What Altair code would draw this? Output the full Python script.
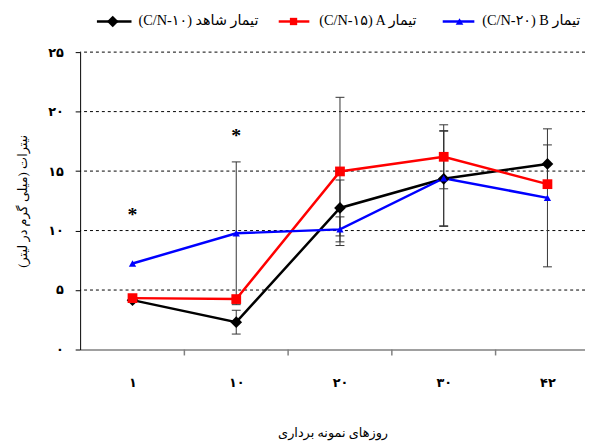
import altair as alt
import pandas as pd

# ---- data ----
day_labels = ["۱", "۱۰", "۲۰", "۳۰", "۴۲"]
series_names = ["(C/N-۱۰) تیمار شاهد", "(C/N-۱۵) A تیمار", "(C/N-۲۰) B تیمار"]
series_colors = ["#000000", "#ff0000", "#0000ff"]
series_shapes = ["diamond", "square", "triangle-up"]
series_sizes = [140, 55, 60]

control_vals = [4.15, 2.3, 11.9, 14.35, 15.6]
control_err = [0, 1.0, 2.35, 4.0, 1.6]
a_vals = [4.32, 4.24, 14.97, 16.2, 13.9]
a_err = [0, 0, 6.23, 2.69, 0]
b_vals = [7.23, 9.77, 10.1, 14.4, 12.75]
b_err = [0, 6.0, 1.05, 4.0, 5.8]

star_idx = [0, 1]
star_vals = [11.55, 18.2]

y_ticks = [0, 5, 10, 15, 20, 25]
y_tick_labels = ["۰", "۵", "۱۰", "۱۵", "۲۰", "۲۵"]
grid_vals = [5, 10, 15, 20, 25]
boundaries = [0.5, 1.5, 2.5, 3.5]

x_title = "روزهای نمونه برداری"
y_title = "نیترات (میلی گرم در لیتر)"

FONT = "Liberation Serif, DejaVu Sans"

# ---- tables ----
rows, err_rows = [], []
all_vals = [control_vals, a_vals, b_vals]
all_errs = [control_err, a_err, b_err]
for s, (vals, errs) in enumerate(zip(all_vals, all_errs)):
    for i, (v, e) in enumerate(zip(vals, errs)):
        rows.append({"idx": i, "value": v, "series": series_names[s], "order": s})
        if e > 0:
            err_rows.append({"idx": i, "lo": v - e, "hi": v + e, "series": series_names[s]})
df = pd.DataFrame(rows)
df_err = pd.DataFrame(err_rows)
df_star = pd.DataFrame({"idx": star_idx, "value": star_vals, "t": ["*"] * len(star_idx)})
df_grid = pd.DataFrame({"value": grid_vals})
df_bound = pd.DataFrame({"idx": boundaries})


def label_expr(vals, labels):
    expr = "''"
    for v, l in reversed(list(zip(vals, labels))):
        expr = f"datum.value == {v} ? '{l}' : {expr}"
    return expr


xscale = alt.Scale(domain=[-0.505, 4.362], nice=False, zero=False)
yscale = alt.Scale(domain=[0, 25], nice=False, zero=False)

xaxis = alt.Axis(values=list(range(len(day_labels))), labelExpr=label_expr(list(range(len(day_labels))), day_labels),
                 ticks=False, grid=False, domainColor="#808080", domainWidth=1.5,
                 labelPadding=27, labelFont=FONT, labelFontSize=13, labelFontWeight="bold",
                 labelColor="black", title=x_title, titleFont=FONT, titleFontSize=13,
                 titleFontWeight="normal", titleColor="black", titlePadding=38)
yaxis = alt.Axis(values=y_ticks, labelExpr=label_expr(y_ticks, y_tick_labels), grid=False,
                 tickColor="black", tickSize=5, domainColor="black", domainWidth=1,
                 labelPadding=12, labelFont=FONT, labelFontSize=13, labelFontWeight="bold",
                 labelColor="black", title=y_title, titleFont=FONT, titleFontSize=13,
                 titleFontWeight="normal", titleColor="black", titlePadding=18)

X = alt.X("idx:Q", scale=xscale, axis=xaxis)
color = alt.Color("series:N", scale=alt.Scale(domain=series_names, range=series_colors), legend=None)
shape = alt.Shape("series:N", scale=alt.Scale(domain=series_names, range=series_shapes), legend=None)
size = alt.Size("series:N", scale=alt.Scale(domain=series_names, range=series_sizes), legend=None)

grid = alt.Chart(df_grid).mark_rule(color="black", strokeDash=[3, 3], strokeWidth=1).encode(
    y=alt.Y("value:Q", scale=yscale, axis=yaxis))

bounds = alt.Chart(df_bound).mark_rule(color="#808080", strokeWidth=1.5).encode(
    x=X, y=alt.value(301), y2=alt.value(307))

err_v = alt.Chart(df_err).mark_rule(color="#333333", strokeWidth=1).encode(
    x=X, y=alt.Y("lo:Q", scale=yscale, axis=yaxis), y2="hi:Q")
cap_lo = alt.Chart(df_err).mark_rule(color="#333333", strokeWidth=1, xOffset=-4.5, x2Offset=4.5).encode(
    x=X, x2="idx:Q", y=alt.Y("lo:Q", scale=yscale, axis=yaxis))
cap_hi = alt.Chart(df_err).mark_rule(color="#333333", strokeWidth=1, xOffset=-4.5, x2Offset=4.5).encode(
    x=X, x2="idx:Q", y=alt.Y("hi:Q", scale=yscale, axis=yaxis))

lines = alt.Chart(df).mark_line(strokeWidth=2.5).encode(
    x=X, y=alt.Y("value:Q", scale=yscale, axis=yaxis), color=color, detail="series:N",
    order="idx:Q")
points = alt.Chart(df).mark_point(filled=True, opacity=1).encode(
    x=X, y=alt.Y("value:Q", scale=yscale, axis=yaxis), color=color, shape=shape, size=size)

stars = alt.Chart(df_star).mark_text(fontSize=20, fontWeight="bold", font=FONT, color="black",
                                     baseline="middle", dy=3).encode(
    x=X, y=alt.Y("value:Q", scale=yscale, axis=yaxis), text="t:N")

# ---- legend (top) ----
leg_line_x = [(17, 52), (201, 232), (367, 399)]
leg_sym_x = [33, 216, 384]
leg_text_x = [59, 242, 407]
leg_y = -31
legend_layers = []
for s in range(3):
    d = pd.DataFrame({"label": [series_names[s]]})
    legend_layers.append(alt.Chart(d).mark_rule(color=series_colors[s], strokeWidth=2.5).encode(
        x=alt.value(leg_line_x[s][0]), x2=alt.value(leg_line_x[s][1]), y=alt.value(leg_y)))
    legend_layers.append(alt.Chart(d).mark_point(filled=True, opacity=1, color=series_colors[s],
                                                 size=series_sizes[s]).encode(
        x=alt.value(leg_sym_x[s]), y=alt.value(leg_y), shape=alt.value(series_shapes[s])))
    legend_layers.append(alt.Chart(d).mark_text(align="left", baseline="middle", font=FONT,
                                                fontSize=14.5, color="black").encode(
        x=alt.value(leg_text_x[s]), y=alt.value(leg_y), text="label:N"))

chart = alt.layer(grid, bounds, err_v, cap_lo, cap_hi, lines, points, stars, *legend_layers).properties(
    width=511, height=301,
    autosize=alt.AutoSizeParams(type="none"),
    padding={"left": 73, "top": 42, "right": 0, "bottom": 95},
    background="white",
).configure_view(stroke=None)

chart.save("out.html", embed_options={"renderer": "svg", "actions": False})
